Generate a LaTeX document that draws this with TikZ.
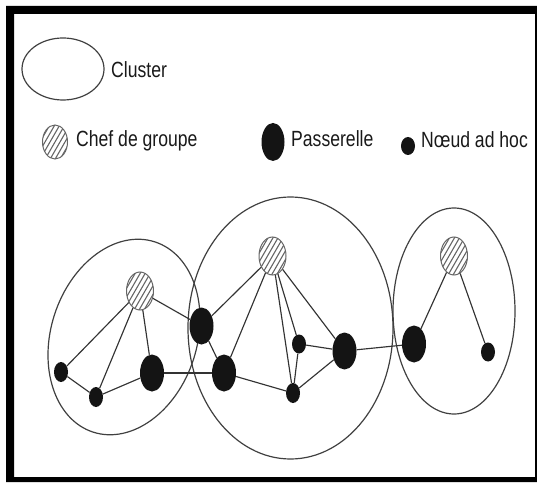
\documentclass[tikz,border=0pt]{standalone}
\usepackage{fontspec}
\setmainfont{Liberation Sans}[FakeStretch=0.8]
\usetikzlibrary{shapes.geometric,calc}

\begin{document}
\begin{tikzpicture}[x=1pt,y=1pt,
  cluster/.style={ellipse, draw=black!75, line width=1.2pt, inner sep=0pt},
  head/.style={ellipse, draw=black!60, line width=1pt, inner sep=0pt,
    minimum width=27pt, minimum height=38pt,
    path picture={\foreach \k in {-40,-35,...,40}{
      \draw[black!60, line width=1.1pt]
        ($(path picture bounding box.center)+(\k pt,0)+(-15pt,-26pt)$) -- ++(30pt,52pt);}}},
  gateway/.style={ellipse, fill=black!92, inner sep=0pt, minimum width=24pt, minimum height=37pt},
  adhoc/.style={ellipse, fill=black!92, inner sep=0pt, minimum width=14pt, minimum height=20pt},
  link/.style={draw=black!80, line width=1.15pt},
  legend/.style={anchor=base west, inner sep=0pt, font=\fontsize{22}{25}\selectfont, text=black!90}]

\useasboundingbox (0,0) rectangle (537,482);
% thick frame
\fill[black, even odd rule] (6,0) rectangle (537,476) (14,5) rectangle (535,468);

% legend
\node[cluster, minimum width=82pt, minimum height=62pt] (lgcluster) at (63,413) {};
\node[legend] (lgclustertxt) at (111,404) {Cluster};
\node[head, minimum width=25pt, minimum height=34pt] (lghead) at (55,340) {};
\node[legend] (lgheadtxt) at (76,335) {Chef de groupe};
\node[gateway, minimum width=23pt, minimum height=38pt] (lggate) at (273,340) {};
\node[legend] (lggatetxt) at (291,335) {Passerelle};
\node[adhoc, minimum height=18pt] (lgadhoc) at (408,336) {};
\node[legend] (lgadhoctxt) at (421,334) {Nœud ad hoc};

% clusters
\node[cluster, minimum width=146pt, minimum height=200pt, rotate=-18] (c1) at (124,145) {};
\node[cluster, minimum width=205pt, minimum height=262pt] (c2) at (290.5,154) {};
\node[cluster, minimum width=122pt, minimum height=206pt] (c3) at (454,171) {};

% cluster heads
\node[head] (ch1) at (140,191) {};
\node[head] (ch2) at (272.5,226) {};
\node[head] (ch3) at (454,226) {};

% gateways
\node[gateway] (p1) at (201.5,156) {};
\node[gateway] (g2) at (152,109) {};
\node[gateway] (g3) at (224,109) {};
\node[gateway] (g4) at (344.5,131) {};
\node[gateway] (g5) at (414,138) {};

% ad hoc nodes
\node[adhoc] (a1) at (61,110) {};
\node[adhoc] (a2) at (96,85) {};
\node[adhoc, minimum height=19pt] (m1) at (299,138) {};
\node[adhoc] (m2) at (293,89) {};
\node[adhoc, minimum height=19pt] (r1) at (488,130) {};

% links
\draw[link] (ch1) -- (a1);
\draw[link] (ch1) -- (a2);
\draw[link] (ch1) -- (g2);
\draw[link] (ch1) -- (p1);
\draw[link] (a1) -- (a2);
\draw[link] (a2) -- (g2);
\draw[link] (g2) -- (g3);
\draw[link] (p1) -- (g3);
\draw[link] (p1) -- (ch2);
\draw[link] (ch2) -- (g3);
\draw[link] (ch2) -- (m1);
\draw[link] (ch2) -- (m2);
\draw[link] (ch2) -- (g4);
\draw[link] (m1) -- (m2);
\draw[link] (m1) -- (g4);
\draw[link] (m2) -- (g4);
\draw[link] (g3) -- (m2);
\draw[link] (g4) -- (g5);
\draw[link] (ch3) -- (g5);
\draw[link] (ch3) -- (r1);
\end{tikzpicture}
\end{document}
